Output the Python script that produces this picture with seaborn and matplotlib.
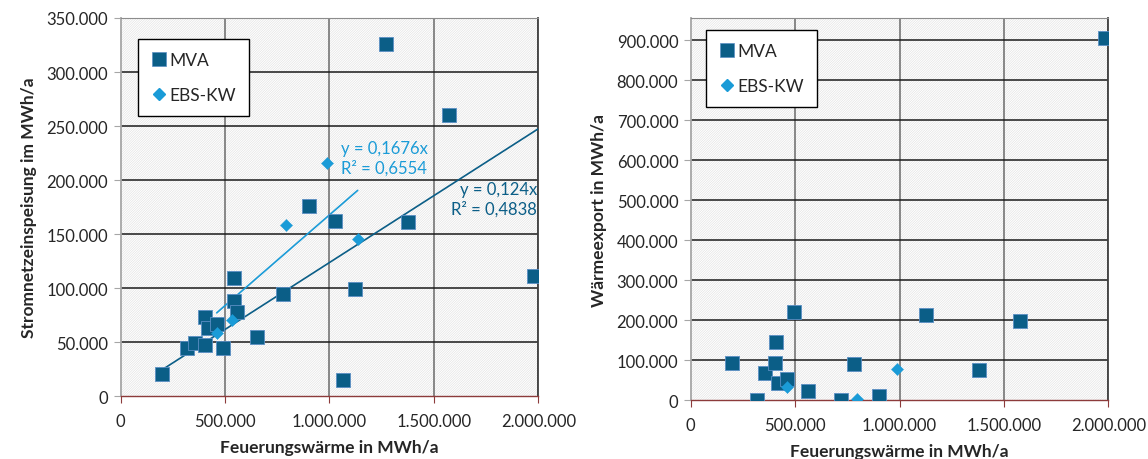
import numpy as np
import pandas as pd
import matplotlib
matplotlib.use("Agg")
import matplotlib.pyplot as plt
from matplotlib.patches import Rectangle
from matplotlib.ticker import FuncFormatter, MultipleLocator
from matplotlib.lines import Line2D
import seaborn as sns

# ---------------- data ----------------
# left chart: Stromnetzeinspeisung vs. Feuerungswärme
mva_fw_strom = [196000, 318000, 356000, 402000, 405000, 418000, 463000, 490000, 543000, 543000,
                559000, 651000, 776000, 902000, 1028000, 1066000, 1124000, 1269000, 1374000,
                1574000, 1979000]
mva_strom = [20900, 44700, 49400, 73400, 47800, 63000, 66700, 45000, 109500, 88000,
             77800, 54900, 94400, 175900, 162300, 15400, 99400, 325600, 161700,
             260400, 111100]
ebs_fw_strom = [460000, 533000, 792000, 987000, 1135000]
ebs_strom = [58600, 70900, 158600, 215400, 145600]

# right chart: Wärmeexport vs. Feuerungswärme
mva_fw_waerme = [196500, 318000, 356000, 404000, 409000, 417000, 463000, 495000, 561000,
                 720000, 781000, 901000, 1127000, 1382000, 1579000, 1986000]
mva_waerme = [93300, 0, 68300, 93300, 146500, 42500, 53300, 221500, 23300,
              1000, 91500, 11500, 213300, 76500, 199000, 906000]
ebs_fw_waerme = [463000, 794000, 989000]
ebs_waerme = [32500, 2500, 79000]

series_names = ["MVA", "EBS-KW"]
eq_mva = "y = 0,124x\nR² = 0,4838"
eq_ebs = "y = 0,1676x\nR² = 0,6554"
xlabel = "Feuerungswärme in MWh/a"
ylabel_left = "Stromnetzeinspeisung im MWh/a"
ylabel_right = "Wärmeexport in MWh/a"

# ---------------- style ----------------
sns.set_style("white")
plt.rcParams["font.family"] = ["Lato", "DejaVu Sans"]
plt.rcParams["hatch.linewidth"] = 0.4
plt.rcParams["hatch.color"] = "#dedede"

C_MVA = "#0b5e87"
C_MVA_EDGE = "#5b8fc4"
C_EBS = "#1a9bd7"

fig = plt.figure(figsize=(11.48, 4.60), dpi=100)
axL = fig.add_axes([0.1051, 0.1363, 0.3638, 0.8224])
axR = fig.add_axes([0.6017, 0.1276, 0.3637, 0.8311])

de_fmt = FuncFormatter(lambda v, p: f"{v:,.0f}".replace(",", "."))


def frame(ax, ymax, ystep):
    ax.set_xlim(0, 2000000)
    ax.set_ylim(0, ymax)
    ax.add_patch(Rectangle((0, 0), 1, 1, transform=ax.transAxes, facecolor="white",
                           edgecolor="#dedede", hatch="/" * 14, lw=0, zorder=0))
    ax.xaxis.set_major_locator(MultipleLocator(500000))
    ax.yaxis.set_major_locator(MultipleLocator(ystep))
    ax.xaxis.set_major_formatter(de_fmt)
    ax.yaxis.set_major_formatter(de_fmt)
    for x in np.arange(500000, 2000001, 500000):
        ax.axvline(x, color="#7f7f7f", lw=1.3, zorder=1)
    for y in np.arange(ystep, ymax, ystep):
        ax.axhline(y, color="#1a1a1a", lw=1.1, zorder=1)
    ax.spines["left"].set_color("#a6a6a6")
    ax.spines["left"].set_linewidth(1.3)
    ax.spines["bottom"].set_color("#8c3b3b")
    ax.spines["bottom"].set_linewidth(1.0)
    ax.spines["top"].set_color("#8c8c8c")
    ax.spines["right"].set_color("#404040")
    ax.spines["right"].set_linewidth(1.3)
    ax.tick_params(axis="y", direction="out", length=5, color="#a6a6a6", labelsize=12,
                   pad=4, left=True)
    ax.tick_params(axis="x", direction="out", length=5, color="#8c3b3b", labelsize=12,
                   pad=7, bottom=True)
    ax.set_xlabel(xlabel, fontsize=12.5, fontweight="bold", labelpad=7)


def scatter(ax, xm, ym, xe, ye):
    dm = pd.DataFrame({"x": xm, "y": ym})
    de = pd.DataFrame({"x": xe, "y": ye})
    sns.scatterplot(data=dm, x="x", y="y", ax=ax, marker="s", s=95, color=C_MVA,
                    edgecolor=C_MVA_EDGE, linewidth=0.6, zorder=4, legend=False)
    sns.scatterplot(data=de, x="x", y="y", ax=ax, marker="D", s=38, color=C_EBS,
                    edgecolor=C_EBS, linewidth=0.3, zorder=5, legend=False)


def legend(ax, anchor):
    handles = [
        Line2D([], [], marker="s", ls="none", color=C_MVA, markersize=10,
               markeredgecolor=C_MVA_EDGE, markeredgewidth=0.5),
        Line2D([], [], marker="D", ls="none", color=C_EBS, markersize=6.5),
    ]
    leg = ax.legend(handles, series_names, loc="upper left", bbox_to_anchor=anchor,
                    fontsize=12.5, frameon=True, fancybox=False, edgecolor="#000000",
                    framealpha=1, borderpad=0.75, labelspacing=1.1, handlelength=0.9,
                    handletextpad=0.15, borderaxespad=0)
    leg.get_frame().set_linewidth(1.0)
    leg.set_zorder(10)
    return leg


# ---------------- left chart ----------------
frame(axL, 350000, 50000)
scatter(axL, mva_fw_strom, mva_strom, ebs_fw_strom, ebs_strom)

xm = np.array(mva_fw_strom, float)
ymv = np.array(mva_strom, float)
k_mva = (xm * ymv).sum() / (xm * xm).sum()
xe = np.array(ebs_fw_strom, float)
yev = np.array(ebs_strom, float)
k_ebs = (xe * yev).sum() / (xe * xe).sum()

line_mva = np.array([xm.min(), 2000000])
line_ebs = np.array([xe.min(), xe.max()])
sns.lineplot(x=line_mva, y=k_mva * line_mva, ax=axL, color=C_MVA, lw=1.2, zorder=3)
sns.lineplot(x=line_ebs, y=k_ebs * line_ebs, ax=axL, color=C_EBS, lw=1.2, zorder=3)

axL.text(1055000, 237000, eq_ebs, color=C_EBS, fontsize=12, ha="left", va="top",
         linespacing=1.2, zorder=6)
axL.text(1993000, 199000, eq_mva, color=C_MVA, fontsize=12, ha="right", va="top",
         multialignment="right", linespacing=1.2, zorder=6)

axL.set_ylabel(ylabel_left, fontsize=12.5, fontweight="bold", labelpad=7)
legend(axL, (0.041, 0.945))

# ---------------- right chart ----------------
frame(axR, 955000, 100000)
scatter(axR, mva_fw_waerme, mva_waerme, ebs_fw_waerme, ebs_waerme)
axR.set_ylabel(ylabel_right, fontsize=12.5, fontweight="bold", labelpad=7)
legend(axR, (0.037, 0.969))

fig.savefig("out.png", dpi=100, facecolor="white")
